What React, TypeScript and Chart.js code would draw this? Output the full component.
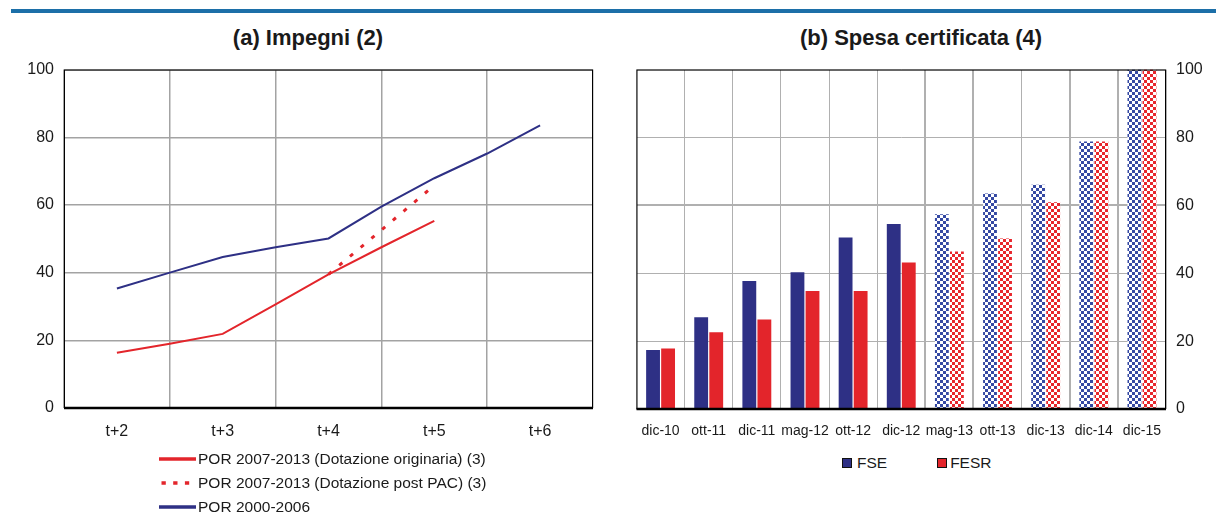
import React, { useEffect, useRef } from 'react';
import { Chart, registerables } from 'chart.js';

Chart.register(...registerables);

const FONT = '"Liberation Sans", Arial, Helvetica, sans-serif';
const NAVY = '#2e3085';
const RED = '#e3252b';
const CHECK_BLUE = '#3549a3';
const CHECK_RED = '#e8262c';
const INK = '#1a1a1a';

// ---- Panel (a) Impegni ----
const yearTickValues = [2, 3, 4, 5, 6];
const yearTickLabels = ['t+2', 't+3', 't+4', 't+5', 't+6'];
const halfYears = [2, 2.5, 3, 3.5, 4, 4.5, 5, 5.5, 6];
const por2000_2006 = [35.3, 40.0, 44.6, 47.5, 50.1, 59.5, 67.9, 75.2, 83.5];
const por2007_2013_orig = [16.3, 19.0, 21.9, 30.6, 39.5, 47.5, 55.3];
const pacHalfYears = [4, 4.5, 5];
const por2007_2013_pac = [39.5, 52.6, 65.8];

const legendA = [
  { text: 'POR 2007-2013 (Dotazione originaria) (3)', color: RED, dashed: false },
  { text: 'POR 2007-2013 (Dotazione post PAC) (3)', color: RED, dashed: true },
  { text: 'POR 2000-2006', color: NAVY, dashed: false },
];

// ---- Panel (b) Spesa certificata ----
const months = ['dic-10', 'ott-11', 'dic-11', 'mag-12', 'ott-12', 'dic-12', 'mag-13', 'ott-13', 'dic-13', 'dic-14', 'dic-15'];
const fse = [17.4, 27.0, 37.7, 40.3, 50.5, 54.5, 57.4, 63.5, 66.1, 78.8, 100];
const fesr = [17.8, 22.6, 26.4, 34.8, 34.8, 43.2, 46.4, 50.2, 60.9, 78.8, 100];
const firstProjected = 6;
const thickXGrid = [6, 7, 9, 10];

const framePlugin = {
  id: 'frame',
  afterDraw(chart: any) {
    const { ctx, chartArea: a } = chart;
    ctx.save();
    ctx.strokeStyle = '#000';
    ctx.lineWidth = 1;
    ctx.strokeRect(a.left + 0.5, a.top + 0.5, a.right - a.left - 1, a.bottom - a.top - 1);
    ctx.lineWidth = 2.5;
    ctx.beginPath();
    ctx.moveTo(a.left, a.bottom);
    ctx.lineTo(a.right, a.bottom);
    ctx.stroke();
    ctx.restore();
  },
};

function checker(color: string) {
  const c = document.createElement('canvas');
  c.width = 6;
  c.height = 6;
  const g = c.getContext('2d')!;
  g.fillStyle = '#ffffff';
  g.fillRect(0, 0, 6, 6);
  g.fillStyle = color;
  g.fillRect(0, 0, 3, 3);
  g.fillRect(3, 3, 3, 3);
  return g.createPattern(c, 'repeat')!;
}

export default function App() {
  const refA = useRef<HTMLCanvasElement>(null);
  const refB = useRef<HTMLCanvasElement>(null);

  useEffect(() => {
    Chart.defaults.font.family = FONT;
    Chart.defaults.color = INK;

    const chartA = new Chart(refA.current!, {
      type: 'line',
      data: {
        datasets: [
          {
            label: legendA[0].text,
            data: por2007_2013_orig.map((y, i) => ({ x: halfYears[i], y })),
            borderColor: RED,
            borderWidth: 2,
            pointRadius: 0,
            tension: 0,
          },
          {
            label: legendA[1].text,
            data: por2007_2013_pac.map((y, i) => ({ x: pacHalfYears[i], y })),
            borderColor: RED,
            borderWidth: 3,
            borderDash: [4, 10],
            pointRadius: 0,
            tension: 0,
          },
          {
            label: legendA[2].text,
            data: por2000_2006.map((y, i) => ({ x: halfYears[i], y })),
            borderColor: NAVY,
            borderWidth: 2,
            pointRadius: 0,
            tension: 0,
          },
        ],
      },
      options: {
        animation: false,
        responsive: false,
        maintainAspectRatio: false,
        layout: { padding: { left: 0, right: 17, top: 15, bottom: 0 } },
        plugins: { legend: { display: false }, tooltip: { enabled: false }, title: { display: false } },
        scales: {
          x: {
            type: 'linear',
            min: 1.5,
            max: 6.5,
            afterBuildTicks: (s: any) => {
              s.ticks = yearTickValues.map((v) => ({ value: v }));
            },
            grid: { offset: true, color: '#a3a3a3', lineWidth: 1.5, drawTicks: false },
            border: { display: false },
            ticks: {
              callback: (_v: any, i: number) => yearTickLabels[i],
              padding: 14,
              font: { size: 16 },
              color: INK,
              autoSkip: false,
              maxRotation: 0,
              minRotation: 0,
            },
            afterFit: (s: any) => {
              s.height = 42;
            },
          },
          y: {
            min: 0,
            max: 100,
            ticks: { stepSize: 20, padding: 10, font: { size: 16 }, color: INK },
            grid: { color: '#a3a3a3', lineWidth: 1.5, drawTicks: false },
            border: { display: false },
            afterFit: (s: any) => {
              s.width = 64;
            },
          },
        },
      } as any,
      plugins: [framePlugin],
    });

    const blueCheck = checker(CHECK_BLUE);
    const redCheck = checker(CHECK_RED);

    const chartB = new Chart(refB.current!, {
      type: 'bar',
      data: {
        labels: months,
        datasets: [
          {
            label: 'FSE',
            data: fse,
            backgroundColor: fse.map((_, i) => (i >= firstProjected ? blueCheck : NAVY)) as any,
            categoryPercentage: 0.625,
            barPercentage: 0.92,
          },
          {
            label: 'FESR',
            data: fesr,
            backgroundColor: fesr.map((_, i) => (i >= firstProjected ? redCheck : RED)) as any,
            categoryPercentage: 0.625,
            barPercentage: 0.92,
          },
        ],
      },
      options: {
        animation: false,
        responsive: false,
        maintainAspectRatio: false,
        layout: { padding: { left: 26.5, right: 0, top: 14.3, bottom: 0 } },
        plugins: { legend: { display: false }, tooltip: { enabled: false } },
        scales: {
          x: {
            grid: {
              offset: true,
              color: '#b0b0b0',
              lineWidth: (c: any) => (thickXGrid.includes(c.index) ? 2 : 1),
              drawTicks: false,
            },
            border: { display: false },
            ticks: { padding: 14, font: { size: 14 }, color: INK, autoSkip: false, maxRotation: 0, minRotation: 0 },
            afterFit: (s: any) => {
              s.height = 41;
            },
          },
          y: {
            position: 'right',
            min: 0,
            max: 100,
            ticks: { stepSize: 20, padding: 10, font: { size: 16 }, color: INK },
            grid: {
              color: '#b0b0b0',
              lineWidth: (c: any) => (c.tick && c.tick.value === 60 ? 2 : 1),
              drawTicks: false,
            },
            border: { display: false },
            afterFit: (s: any) => {
              s.width = 50;
            },
          },
        },
      } as any,
      plugins: [framePlugin],
    });

    return () => {
      chartA.destroy();
      chartB.destroy();
    };
  }, []);

  const titleStyle: React.CSSProperties = {
    position: 'absolute',
    top: 25,
    height: 26,
    lineHeight: '26px',
    fontSize: 22,
    fontWeight: 'bold',
    textAlign: 'center',
    whiteSpace: 'nowrap',
  };

  return (
    <div
      style={{
        position: 'absolute',
        left: 0,
        top: 0,
        width: 1216,
        height: 532,
        background: '#fff',
        fontFamily: FONT,
        color: INK,
        overflow: 'hidden',
      }}
    >
      <div style={{ position: 'absolute', left: 11, top: 9, width: 1205, height: 4, background: '#1c6fa8' }} />
      <div style={{ ...titleStyle, left: 158, width: 300 }}>(a) Impegni (2)</div>
      <div style={{ ...titleStyle, left: 721, width: 400 }}>(b) Spesa certificata (4)</div>

      <canvas ref={refA} width={610} height={400} style={{ position: 'absolute', left: 0, top: 50 }} />
      <canvas ref={refB} width={606} height={400} style={{ position: 'absolute', left: 610, top: 50 }} />

      {legendA.map((item, i) => (
        <div
          key={item.text}
          style={{
            position: 'absolute',
            left: 159,
            top: [449, 473, 497][i],
            height: 20,
            display: 'flex',
            alignItems: 'center',
            fontSize: 15.5,
            whiteSpace: 'nowrap',
          }}
        >
          <svg width={37} height={6} style={{ marginRight: 2 }}>
            <line
              x1={item.dashed ? 2.5 : 0}
              y1={3}
              x2={37}
              y2={3}
              stroke={item.color}
              strokeWidth={3.3}
              strokeDasharray={item.dashed ? '4.3 7.4' : undefined}
            />
          </svg>
          <span>{item.text}</span>
        </div>
      ))}

      <div
        style={{
          position: 'absolute',
          left: 842,
          top: 453,
          height: 20,
          display: 'flex',
          alignItems: 'center',
          fontSize: 15.5,
          whiteSpace: 'nowrap',
        }}
      >
        <span style={{ width: 10, height: 10, boxSizing: 'border-box', border: '1px solid #111', background: NAVY, marginRight: 5 }} />
        <span style={{ marginRight: 50 }}>FSE</span>
        <span style={{ width: 10, height: 10, boxSizing: 'border-box', border: '1px solid #111', background: RED, marginRight: 3 }} />
        <span>FESR</span>
      </div>
    </div>
  );
}
